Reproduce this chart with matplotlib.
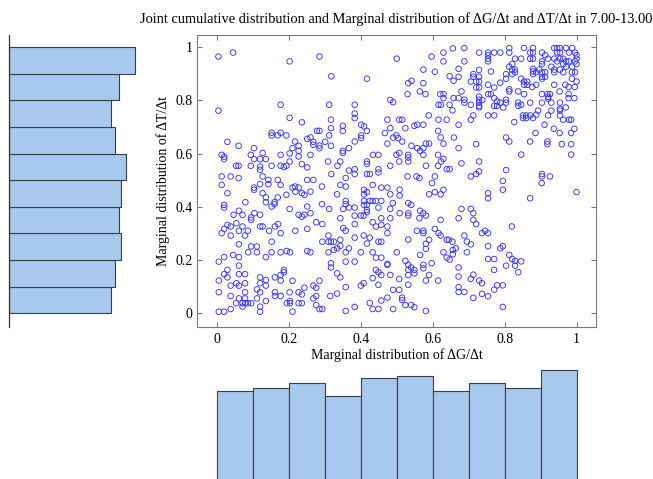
import numpy as np
import matplotlib
matplotlib.use("Agg")
import matplotlib.pyplot as plt

plt.rcParams["font.family"] = ["Liberation Serif", "DejaVu Serif"]
plt.rcParams["font.size"] = 10

# =========================================================
# DATA
# =========================================================

title = "Joint cumulative distribution and Marginal distribution of \u0394G/\u0394t and \u0394T/\u0394t in 7.00-13.00"
x_label = "Marginal distribution of \u0394G/\u0394t"
y_label = "Marginal distribution of \u0394T/\u0394t"

ticks = [0, 0.2, 0.4, 0.6, 0.8, 1]
tick_labels = ["0", "0.2", "0.4", "0.6", "0.8", "1"]

bin_edges = np.linspace(0, 1, 11)
# counts per bin, left -> right (x) and bottom -> top (y)
hist_dG = [65, 67, 70, 62, 73, 74, 65, 70, 67, 78]
hist_dT = [64, 66, 70, 69, 70, 73, 66, 64, 69, 79]

# scatter points (dG, dT), grouped by picture region
pts_upper_left = [
    (0.004, 0.964), (0.045, 0.979), (0.202, 0.946), (0.285, 0.964),
    (0.004, 0.761), (0.177, 0.783), (0.202, 0.734), (0.236, 0.717),
    (0.278, 0.685), (0.285, 0.685),
    (0.152, 0.678), (0.152, 0.668), (0.169, 0.668), (0.177, 0.678), (0.193, 0.668),
    (0.029, 0.644), (0.060, 0.629), (0.103, 0.620), (0.217, 0.645), (0.251, 0.655),
    (0.260, 0.660), (0.268, 0.644), (0.268, 0.633), (0.210, 0.620), (0.227, 0.629),
    (0.285, 0.630), (0.285, 0.620), (0.301, 0.644),
    (0.013, 0.595), (0.020, 0.588), (0.020, 0.579), (0.094, 0.595), (0.127, 0.602),
    (0.177, 0.595), (0.202, 0.600), (0.227, 0.610), (0.260, 0.595),
    (0.103, 0.579), (0.120, 0.579), (0.136, 0.579), (0.202, 0.570), (0.227, 0.589),
    (0.053, 0.554), (0.060, 0.554), (0.094, 0.554), (0.120, 0.551), (0.120, 0.539),
    (0.152, 0.554), (0.177, 0.554), (0.186, 0.549), (0.193, 0.554), (0.236, 0.560),
    (0.251, 0.548),
    (0.013, 0.514), (0.038, 0.514), (0.060, 0.508), (0.127, 0.514), (0.143, 0.501),
    (0.169, 0.501), (0.251, 0.501), (0.268, 0.501),
]

pts_upper_mid = [
    (0.318, 0.890), (0.312, 0.783), (0.317, 0.727), (0.317, 0.695), (0.312, 0.668),
    (0.317, 0.629), (0.309, 0.570), (0.318, 0.523),
    (0.500, 0.956), (0.417, 0.881), (0.597, 0.964), (0.630, 0.979), (0.656, 0.995),
    (0.630, 0.946), (0.574, 0.915), (0.606, 0.907), (0.647, 0.890), (0.658, 0.873),
    (0.532, 0.864), (0.541, 0.873), (0.574, 0.864), (0.530, 0.823), (0.564, 0.833),
    (0.580, 0.823), (0.621, 0.823), (0.630, 0.823), (0.630, 0.808), (0.658, 0.808),
    (0.482, 0.801), (0.490, 0.793), (0.383, 0.783), (0.616, 0.783), (0.623, 0.783),
    (0.647, 0.783), (0.655, 0.762),
    (0.383, 0.750), (0.383, 0.733), (0.589, 0.743), (0.474, 0.727), (0.507, 0.727),
    (0.515, 0.727), (0.616, 0.727), (0.639, 0.727),
    (0.350, 0.704), (0.350, 0.685), (0.401, 0.708), (0.409, 0.702), (0.417, 0.685),
    (0.482, 0.695), (0.524, 0.695), (0.549, 0.704), (0.557, 0.708), (0.574, 0.708),
    (0.615, 0.685), (0.467, 0.677),
    (0.401, 0.668), (0.401, 0.658), (0.499, 0.668), (0.504, 0.658), (0.490, 0.660),
    (0.622, 0.660), (0.659, 0.660),
    (0.383, 0.645), (0.474, 0.637), (0.515, 0.645), (0.541, 0.629), (0.557, 0.620),
    (0.565, 0.610), (0.574, 0.620), (0.581, 0.637), (0.590, 0.637), (0.630, 0.637),
    (0.574, 0.595),
    (0.367, 0.620), (0.350, 0.610), (0.350, 0.602), (0.434, 0.595), (0.449, 0.595),
    (0.499, 0.595), (0.507, 0.602), (0.532, 0.595), (0.532, 0.585), (0.615, 0.595),
    (0.630, 0.580),
    (0.343, 0.570), (0.335, 0.554), (0.417, 0.570), (0.417, 0.561), (0.507, 0.570),
    (0.532, 0.570), (0.623, 0.570), (0.482, 0.554), (0.581, 0.554), (0.615, 0.554),
    (0.367, 0.536), (0.383, 0.541), (0.383, 0.523), (0.417, 0.523), (0.425, 0.523),
    (0.449, 0.541), (0.449, 0.529), (0.639, 0.541), (0.647, 0.541),
    (0.530, 0.514), (0.555, 0.514), (0.563, 0.508), (0.606, 0.514), (0.358, 0.508),
]

pts_upper_right = [
    (0.688, 0.996), (0.729, 0.979), (0.754, 0.979), (0.754, 0.969), (0.754, 0.956),
    (0.754, 0.946), (0.771, 0.979), (0.788, 0.979), (0.813, 0.996), (0.813, 0.979),
    (0.854, 0.996), (0.871, 0.979), (0.879, 0.996), (0.879, 0.979), (0.871, 0.956),
    (0.879, 0.956), (0.829, 0.956), (0.846, 0.956), (0.904, 0.979), (0.913, 0.969),
    (0.921, 0.956), (0.904, 0.946), (0.904, 0.936), (0.938, 0.996), (0.946, 0.996),
    (0.954, 0.996), (0.946, 0.979), (0.954, 0.979), (0.938, 0.956), (0.954, 0.956),
    (0.946, 0.946), (0.971, 0.996), (0.988, 0.996), (0.979, 0.979), (0.963, 0.956),
    (0.963, 0.936), (0.971, 0.946), (0.979, 0.946), (0.996, 0.979), (1.000, 0.969),
    (1.000, 0.956), (1.000, 0.936), (0.988, 0.926), (0.996, 0.946),
    (0.688, 0.946), (0.672, 0.918), (0.821, 0.936), (0.813, 0.926), (0.821, 0.915),
    (0.829, 0.915), (0.762, 0.908), (0.713, 0.898), (0.713, 0.888), (0.729, 0.914),
    (0.729, 0.888), (0.721, 0.870), (0.804, 0.898), (0.804, 0.881), (0.821, 0.898),
    (0.829, 0.905), (0.879, 0.918), (0.879, 0.908), (0.879, 0.898), (0.888, 0.905),
    (0.896, 0.915), (0.904, 0.905), (0.904, 0.888), (0.913, 0.905), (0.930, 0.926),
    (0.938, 0.915), (0.938, 0.905), (0.954, 0.915), (0.963, 0.905), (0.971, 0.926),
    (0.987, 0.905), (0.996, 0.905), (0.672, 0.888), (0.706, 0.870),
    (0.729, 0.870), (0.788, 0.866), (0.846, 0.881), (0.854, 0.870), (0.863, 0.870),
    (0.854, 0.858), (0.863, 0.858), (0.888, 0.858), (0.904, 0.881), (0.913, 0.888),
    (0.938, 0.858), (0.969, 0.858), (0.987, 0.881), (0.995, 0.850), (1.000, 0.870),
    (0.754, 0.858), (0.771, 0.848), (0.721, 0.848), (0.729, 0.848), (0.680, 0.833),
    (0.813, 0.841), (0.813, 0.833), (0.838, 0.833), (0.854, 0.823), (0.877, 0.850),
    (0.919, 0.823), (0.926, 0.823), (0.904, 0.823), (0.921, 0.813), (0.921, 0.806),
    (0.953, 0.833), (0.978, 0.823), (0.978, 0.808), (0.994, 0.808), (0.978, 0.850),
    (0.754, 0.823), (0.762, 0.823), (0.672, 0.808), (0.688, 0.802),
    (0.688, 0.791), (0.729, 0.813), (0.729, 0.802), (0.729, 0.791), (0.729, 0.779),
    (0.729, 0.773), (0.738, 0.801), (0.771, 0.808), (0.779, 0.796), (0.779, 0.779),
    (0.788, 0.791), (0.796, 0.773), (0.804, 0.802), (0.804, 0.791), (0.771, 0.779),
    (0.838, 0.791), (0.838, 0.779), (0.846, 0.783), (0.871, 0.791), (0.904, 0.791),
    (0.930, 0.791), (0.954, 0.791), (0.954, 0.768), (0.970, 0.773), (0.706, 0.783),
    (0.754, 0.743), (0.771, 0.743), (0.713, 0.743), (0.706, 0.727), (0.851, 0.743),
    (0.860, 0.743), (0.851, 0.733), (0.860, 0.733), (0.879, 0.733), (0.888, 0.746),
    (0.893, 0.761), (0.871, 0.743), (0.921, 0.743), (0.930, 0.761), (0.954, 0.761),
    (0.954, 0.743), (0.963, 0.727), (0.979, 0.727), (0.985, 0.727), (0.827, 0.718),
    (0.911, 0.708), (0.672, 0.708), (0.937, 0.693), (0.994, 0.693), (0.886, 0.677),
    (0.953, 0.677), (0.985, 0.677), (0.804, 0.660), (0.813, 0.645),
    (0.871, 0.645), (0.919, 0.645), (0.919, 0.635), (0.721, 0.635), (0.959, 0.635),
    (0.985, 0.635), (0.672, 0.620), (0.846, 0.596), (0.985, 0.596), (0.680, 0.563),
    (0.729, 0.570), (0.804, 0.538), (0.721, 0.523), (0.729, 0.533), (0.706, 0.514),
    (0.904, 0.523), (0.904, 0.514), (0.926, 0.514),
]

pts_lower_left = [
    (0.120, 0.485), (0.143, 0.485), (0.177, 0.482), (0.013, 0.482), (0.292, 0.476),
    (0.217, 0.476), (0.210, 0.472), (0.227, 0.472), (0.218, 0.457), (0.236, 0.451),
    (0.243, 0.445), (0.260, 0.457), (0.103, 0.472), (0.103, 0.464), (0.127, 0.451),
    (0.136, 0.435), (0.136, 0.417), (0.169, 0.435), (0.160, 0.417), (0.152, 0.401),
    (0.160, 0.410), (0.193, 0.445), (0.029, 0.451), (0.079, 0.417), (0.020, 0.407),
    (0.020, 0.397), (0.292, 0.410), (0.251, 0.401), (0.202, 0.392), (0.061, 0.385),
    (0.046, 0.370), (0.071, 0.370), (0.104, 0.376), (0.120, 0.370), (0.095, 0.360),
    (0.095, 0.351), (0.227, 0.370), (0.236, 0.363), (0.243, 0.370), (0.260, 0.376),
    (0.312, 0.392), (0.276, 0.342), (0.293, 0.335), (0.029, 0.332), (0.054, 0.338),
    (0.038, 0.326), (0.020, 0.317), (0.013, 0.301), (0.038, 0.292), (0.061, 0.310),
    (0.071, 0.326), (0.086, 0.310), (0.078, 0.292), (0.120, 0.326), (0.127, 0.326),
    (0.161, 0.326), (0.170, 0.335), (0.145, 0.310), (0.177, 0.301), (0.218, 0.310),
    (0.251, 0.317), (0.310, 0.292), (0.152, 0.269), (0.293, 0.269), (0.310, 0.269),
    (0.061, 0.259), (0.095, 0.251), (0.111, 0.251), (0.087, 0.229), (0.111, 0.229),
    (0.152, 0.229), (0.177, 0.229), (0.194, 0.234), (0.203, 0.229), (0.251, 0.234),
    (0.260, 0.229), (0.310, 0.229), (0.020, 0.211), (0.005, 0.194), (0.045, 0.219),
    (0.061, 0.211), (0.136, 0.211), (0.061, 0.179), (0.029, 0.163), (0.020, 0.147),
    (0.029, 0.135), (0.061, 0.147), (0.078, 0.147), (0.186, 0.163), (0.186, 0.154),
    (0.177, 0.144), (0.161, 0.135), (0.120, 0.135), (0.136, 0.125), (0.120, 0.113),
    (0.136, 0.104), (0.078, 0.113), (0.054, 0.113), (0.061, 0.104), (0.038, 0.104),
    (0.005, 0.123), (0.210, 0.122), (0.285, 0.122), (0.268, 0.104), (0.276, 0.096),
    (0.243, 0.096), (0.177, 0.123), (0.111, 0.090), (0.120, 0.079), (0.078, 0.079),
    (0.005, 0.079), (0.038, 0.065), (0.061, 0.056), (0.078, 0.056), (0.111, 0.056),
    (0.136, 0.046), (0.161, 0.079), (0.161, 0.065), (0.177, 0.065), (0.202, 0.079),
    (0.227, 0.079), (0.236, 0.071), (0.276, 0.065), (0.268, 0.056), (0.315, 0.065),
    (0.053, 0.038), (0.071, 0.038), (0.071, 0.025), (0.078, 0.038), (0.086, 0.038),
    (0.095, 0.038), (0.194, 0.038), (0.203, 0.046), (0.203, 0.038), (0.227, 0.038),
    (0.236, 0.038), (0.276, 0.031), (0.285, 0.016), (0.293, 0.016), (0.120, 0.025),
    (0.120, 0.006), (0.005, 0.006), (0.020, 0.006), (0.038, 0.016), (0.210, 0.006),
]

pts_lower_mid = [
    (0.343, 0.482), (0.358, 0.476), (0.433, 0.482), (0.457, 0.472), (0.474, 0.472),
    (0.409, 0.464), (0.417, 0.455), (0.409, 0.447), (0.508, 0.464), (0.508, 0.442),
    (0.482, 0.447), (0.334, 0.447), (0.598, 0.489), (0.606, 0.455),
    (0.590, 0.447), (0.622, 0.447), (0.630, 0.464), (0.358, 0.422), (0.358, 0.410),
    (0.409, 0.422), (0.425, 0.422), (0.433, 0.422), (0.442, 0.422), (0.457, 0.422),
    (0.409, 0.407), (0.417, 0.407), (0.417, 0.388), (0.417, 0.380), (0.351, 0.392),
    (0.367, 0.397), (0.383, 0.397), (0.449, 0.397), (0.489, 0.414), (0.482, 0.392),
    (0.532, 0.414), (0.540, 0.407), (0.508, 0.376), (0.532, 0.376),
    (0.532, 0.367), (0.565, 0.385), (0.574, 0.376), (0.581, 0.367), (0.563, 0.357),
    (0.343, 0.357), (0.383, 0.367), (0.400, 0.367), (0.408, 0.367), (0.457, 0.357),
    (0.482, 0.357), (0.433, 0.342), (0.442, 0.326), (0.457, 0.332), (0.474, 0.326),
    (0.383, 0.335), (0.622, 0.351), (0.351, 0.320), (0.358, 0.310), (0.474, 0.301),
    (0.317, 0.269), (0.325, 0.269), (0.343, 0.276),
    (0.383, 0.284), (0.408, 0.292), (0.425, 0.284), (0.417, 0.262), (0.449, 0.269),
    (0.457, 0.269), (0.532, 0.277), (0.556, 0.310), (0.574, 0.310), (0.574, 0.301),
    (0.606, 0.317), (0.616, 0.301), (0.622, 0.292), (0.590, 0.276), (0.581, 0.261),
    (0.581, 0.242), (0.639, 0.276), (0.645, 0.276), (0.655, 0.269), (0.334, 0.244),
    (0.343, 0.253), (0.325, 0.238), (0.367, 0.244), (0.358, 0.229), (0.400, 0.229),
    (0.433, 0.229), (0.442, 0.209), (0.457, 0.209), (0.500, 0.229), (0.565, 0.219),
    (0.630, 0.229), (0.639, 0.209), (0.647, 0.202), (0.656, 0.238), (0.656, 0.222),
    (0.317, 0.188), (0.317, 0.172), (0.358, 0.194), (0.383, 0.194), (0.474, 0.185),
    (0.474, 0.182), (0.524, 0.197), (0.532, 0.182), (0.540, 0.172), (0.532, 0.163),
    (0.549, 0.163), (0.549, 0.150), (0.574, 0.182), (0.574, 0.169), (0.597, 0.188),
    (0.334, 0.150), (0.343, 0.135), (0.442, 0.163), (0.449, 0.154), (0.457, 0.144),
    (0.433, 0.132), (0.482, 0.144), (0.507, 0.129), (0.532, 0.144), (0.590, 0.144),
    (0.615, 0.123), (0.581, 0.123), (0.400, 0.104), (0.408, 0.113), (0.449, 0.107),
    (0.358, 0.098), (0.532, 0.107), (0.490, 0.088), (0.507, 0.088),
    (0.334, 0.074), (0.474, 0.059), (0.425, 0.039), (0.457, 0.048), (0.515, 0.059),
    (0.515, 0.050), (0.524, 0.031), (0.540, 0.031), (0.549, 0.023), (0.383, 0.024),
    (0.433, 0.016), (0.449, 0.016), (0.490, 0.016), (0.358, 0.009), (0.581, 0.009),
]

pts_lower_right = [
    (0.795, 0.497), (0.795, 0.464), (0.903, 0.489), (1.000, 0.455), (0.871, 0.432),
    (0.754, 0.451), (0.754, 0.432), (0.680, 0.392), (0.706, 0.392), (0.713, 0.376),
    (0.672, 0.357), (0.713, 0.351), (0.721, 0.335), (0.820, 0.326), (0.746, 0.310),
    (0.737, 0.301), (0.754, 0.301), (0.688, 0.292), (0.695, 0.269),
    (0.706, 0.259), (0.664, 0.244), (0.695, 0.229), (0.754, 0.252),
    (0.788, 0.244), (0.795, 0.252), (0.813, 0.219), (0.821, 0.204), (0.829, 0.197),
    (0.829, 0.179), (0.846, 0.195), (0.754, 0.204), (0.771, 0.204), (0.804, 0.179),
    (0.771, 0.163), (0.838, 0.154), (0.672, 0.172), (0.672, 0.138), (0.713, 0.145),
    (0.706, 0.129), (0.729, 0.123), (0.737, 0.113), (0.779, 0.105), (0.795, 0.105),
    (0.771, 0.089), (0.672, 0.098), (0.672, 0.080), (0.688, 0.080), (0.737, 0.073),
    (0.754, 0.064), (0.713, 0.058), (0.795, 0.024),
]

# =========================================================
# FIGURE
# =========================================================

W, H = 653, 479
fig = plt.figure(figsize=(W / 100, H / 100), dpi=100)


def px_axes(left, top, right, bottom):
    # axes box given in figure pixels (top-left origin)
    return fig.add_axes([left / W, 1 - bottom / H, (right - left) / W, (bottom - top) / H])


xlim = (-0.0556, 1.0542)
ylim = (-0.0514, 1.045)
bar_face = "#a8c9ee"
bar_edge = "#3a3f47"
frame = "#7a7a7a"

# ---------------------------------------------------------
# Scatter
# ---------------------------------------------------------

ax = px_axes(197, 35, 596, 327)

pts = np.array(pts_upper_left + pts_upper_mid + pts_upper_right
               + pts_lower_left + pts_lower_mid + pts_lower_right)

ax.scatter(
    pts[:, 0],
    pts[:, 1],
    s=16,
    facecolors="none",
    edgecolors="#3535ff",
    linewidths=0.65
)

ax.set_xlim(*xlim)
ax.set_ylim(*ylim)
ax.set_xticks(ticks)
ax.set_xticklabels(tick_labels)
ax.set_yticks(ticks)
ax.set_yticklabels(tick_labels)
ax.tick_params(direction="in", length=3.5, width=0.8, color=frame,
               top=True, right=True, labelsize=10)
ax.tick_params(axis="x", pad=4)
ax.tick_params(axis="y", pad=3)
for sp in ax.spines.values():
    sp.set_color(frame)
    sp.set_linewidth(0.8)

ax.set_xlabel(x_label, fontsize=10, labelpad=2)
ax.set_ylabel(y_label, fontsize=10, labelpad=4)
ax.set_title(title, fontsize=10.35, pad=9)

# ---------------------------------------------------------
# Left marginal (dT)
# ---------------------------------------------------------

axl = px_axes(9, 35, 160, 327)
axl.barh(
    bin_edges[:-1],
    hist_dT,
    height=np.diff(bin_edges),
    align="edge",
    color=bar_face,
    edgecolor=bar_edge,
    linewidth=0.8
)
axl.set_ylim(*ylim)
axl.set_xlim(0, 151 / 1.6)
axl.set_xticks([])
axl.set_yticks([])
for name, sp in axl.spines.items():
    sp.set_visible(name == "left")
axl.spines["left"].set_color("#333333")
axl.spines["left"].set_linewidth(0.9)
axl.patch.set_alpha(0)

# ---------------------------------------------------------
# Bottom marginal (dG)
# ---------------------------------------------------------

axb = px_axes(197, 360, 596, 479)
axb.bar(
    bin_edges[:-1],
    hist_dG,
    width=np.diff(bin_edges),
    align="edge",
    color=bar_face,
    edgecolor=bar_edge,
    linewidth=0.8
)
axb.set_xlim(*xlim)
axb.set_ylim(12.55, 83.8)
axb.set_xticks([])
axb.set_yticks([])
for sp in axb.spines.values():
    sp.set_visible(False)
axb.patch.set_alpha(0)

fig.savefig("out.png", dpi=100)
